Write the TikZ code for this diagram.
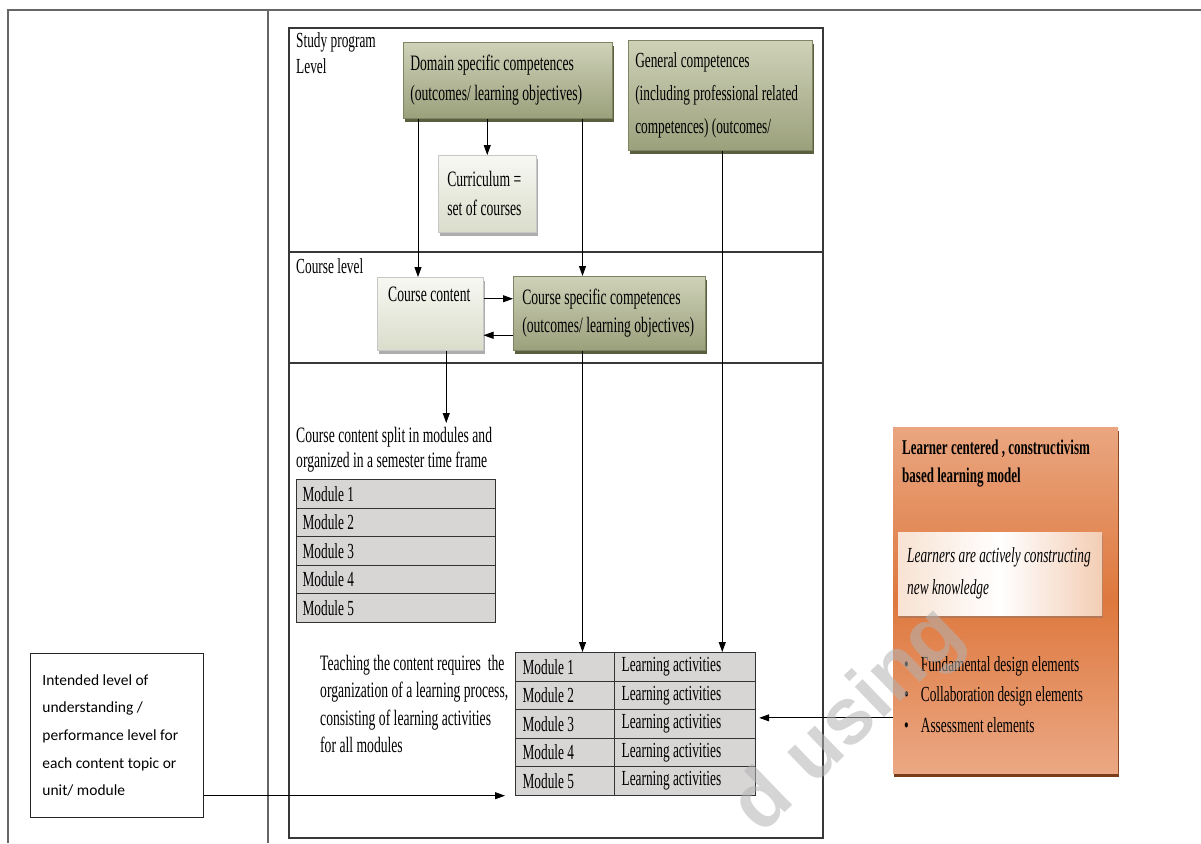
\documentclass[tikz,border=0pt]{standalone}
\usepackage{fontspec}
\setmainfont{Liberation Serif}[FakeStretch=0.62]
\newfontfamily\calib{Carlito}
\newfontfamily\wmfont{Liberation Sans}
\usetikzlibrary{arrows.meta,shadows,calc}
\definecolor{olivetop}{HTML}{CFD2B8}
\definecolor{olivebot}{HTML}{9BA07C}
\definecolor{olivedraw}{HTML}{7F8462}
\definecolor{oliveshadow}{HTML}{5B5F40}
\definecolor{paletop}{HTML}{F7F8F2}
\definecolor{palebot}{HTML}{DADCCB}
\definecolor{modgrey}{HTML}{D8D5D5}
\definecolor{orangetop}{HTML}{EAA680}
\definecolor{orangemid}{HTML}{DE783E}
\definecolor{orangebot}{HTML}{EBA884}
\definecolor{orangeshadow}{HTML}{7A3D1C}
\definecolor{peachl}{HTML}{F8E2D3}
\definecolor{peachr}{HTML}{F3CDB4}
\newcommand\setfs[2]{\fontsize{#1}{#2}\selectfont}
\tikzset{
  every node/.style={execute at begin node={\spaceskip=0pt\xspaceskip=0pt\hyphenpenalty=10000\exhyphenpenalty=10000\rightskip=0pt plus 1fil\relax}},
  tline/.style={draw=black!60, line width=1.5pt},
  frameline/.style={draw=black!78, line width=1.2pt},
  greenbox/.style={draw=olivedraw, line width=0.5pt, top color=olivetop, bottom color=olivebot,
    drop shadow={shadow xshift=2pt, shadow yshift=-4pt, fill=oliveshadow, opacity=1},
    anchor=north west, align=left},
  palebox/.style={draw=black!22, line width=0.5pt, top color=paletop, bottom color=palebot,
    drop shadow={shadow xshift=2pt, shadow yshift=-4pt, fill=black!40, opacity=0.8},
    anchor=north west, align=left},
  modcell/.style={draw=black!80, line width=1.2pt, fill=modgrey, minimum height=28.5pt,
    inner ysep=0pt, inner xsep=6pt, align=left, anchor=north west, font=\setfs{21.5}{25}},
  plain/.style={inner sep=0pt, anchor=north west, align=left},
  conn/.style={draw=black, line width=0.9pt},
  arr/.style={conn, -{Triangle[length=10pt,width=7pt]}},
}
\begin{document}
\begin{tikzpicture}[x=1pt,y=-1pt]
\useasboundingbox (0,0) rectangle (1201,843);
% outer table lines
\draw[tline] (7,10) -- (1201,10);
\draw[tline] (8,10) -- (8,843);
\draw[tline] (268,10) -- (268,843);
% inner frame
\draw[frameline] (289,28) rectangle (823,838);
\draw[frameline] (289,252) -- (823,252);
\draw[frameline] (289,363) -- (823,363);

% labels of levels
\node[plain, font=\setfs{21.5}{26}] (spl) at (296,32) {Study program\\Level};
\node[plain, font=\setfs{21.5}{26}] (cl) at (296,258) {Course level};

% study program level boxes
\node[greenbox, text width=195pt, inner xsep=7pt, minimum height=76pt, font=\setfs{22}{30}] (dom) at (403,42)
  {Domain specific competences\\(outcomes/ learning objectives)};
\node[greenbox, text width=170pt, inner xsep=7pt, minimum height=110pt, font=\setfs{21.5}{33}] (gen) at (628,40)
  {General competences\\(including professional related\\competences) (outcomes/};
\node[palebox, text width=80pt, inner xsep=9pt, minimum height=77pt, font=\setfs{22}{29}] (curr) at (438,155)
  {Curriculum =\\set of courses};

% course level boxes
\node[palebox, minimum width=106pt, minimum height=73pt] (cc) at (377,277) {};
\node[plain, font=\setfs{22}{26}] (cctext) at (388,287) {Course content};
\node[greenbox, text width=174pt, inner xsep=9pt, minimum height=74pt, font=\setfs{22}{28}] (cs) at (513,276)
  {Course specific competences\\(outcomes/ learning objectives)};

% module list
\node[plain, font=\setfs{22}{25}] (split) at (296,427)
  {Course content split in modules and\\organized in a semester time frame};
\node[modcell, text width=187pt] (ml1) at (296,479) {Module 1};
\node[modcell, text width=187pt] (ml2) at (296,507.5) {Module 2};
\node[modcell, text width=187pt] (ml3) at (296,536) {Module 3};
\node[modcell, text width=187pt] (ml4) at (296,564.5) {Module 4};
\node[modcell, text width=187pt] (ml5) at (296,593) {Module 5};

% teaching text
\node[plain, font=\setfs{22}{27.3}] (teach) at (320,655)
  {Teaching the content requires\ \ the\\organization of a learning process,\\consisting of learning activities\\for all modules};

% module table
\node[modcell, text width=85pt, inner xsep=7pt] (m1) at (515,652) {Module 1};
\node[modcell, text width=85pt, inner xsep=7pt] (m2) at (515,680.5) {Module 2};
\node[modcell, text width=85pt, inner xsep=7pt] (m3) at (515,709) {Module 3};
\node[modcell, text width=85pt, inner xsep=7pt] (m4) at (515,737.5) {Module 4};
\node[modcell, text width=85pt, inner xsep=7pt] (m5) at (515,766) {Module 5};
\node[modcell, text width=127pt, inner xsep=7pt] (l1) at (614,652) {Learning activities};
\node[modcell, text width=127pt, inner xsep=7pt] (l2) at (614,680.5) {Learning activities};
\node[modcell, text width=127pt, inner xsep=7pt] (l3) at (614,709) {Learning activities};
\node[modcell, text width=127pt, inner xsep=7pt] (l4) at (614,737.5) {Learning activities};
\node[modcell, text width=127pt, inner xsep=7pt] (l5) at (614,766) {Learning activities};

% left box
\node[draw=black!85, line width=0.9pt, anchor=north west, text width=149pt, inner xsep=12pt,
      minimum height=164pt, align=left, font=\calib\setfs{15.5}{27.7}] (lb) at (30,653)
  {Intended level of\\understanding /\\performance level for\\each content topic or\\unit/ module};

% orange box
\node[anchor=north west, minimum width=225pt, minimum height=346pt, inner sep=0pt,
      top color=orangetop, bottom color=orangebot, middle color=orangemid,
      drop shadow={shadow xshift=1pt, shadow yshift=-4pt, fill=orangeshadow, opacity=1}] (ob) at (893,427) {};
\node[plain, font=\bfseries\setfs{21}{28}] (obtitle) at (902,440)
  {Learner centered , constructivism\\based learning model};
\node[anchor=north west, minimum width=204pt, minimum height=83pt, inner xsep=9pt, text width=186pt,
      align=left, left color=peachl, right color=peachr, middle color=white,
      drop shadow={shadow xshift=1pt, shadow yshift=-3pt, fill=orangeshadow!70, opacity=0.7},
      font=\itshape\setfs{21.5}{32}] (know) at (898,532)
  {Learners are actively constructing\\new knowledge};
\node[plain, font=\setfs{21.5}{30.5}] (bul) at (904,656)
  {\textbullet\hspace{12pt}Fundamental design elements\\
   \textbullet\hspace{12pt}Collaboration design elements\\
   \textbullet\hspace{12pt}Assessment elements};

% connectors
\draw[arr] (curr.north |- dom.south) -- (curr.north);
\draw[arr] ([xshift=15pt]dom.south west) -- ([xshift=15pt]dom.south west |- cc.north);
\draw[arr] ([xshift=-30pt]dom.south east) -- ([xshift=-30pt]dom.south east |- cs.north);
\draw[arr] ([xshift=-30pt]dom.south east |- cs.south) -- ([xshift=-30pt]dom.south east |- l1.north);
\draw[arr] ([xshift=2pt]gen.south) -- ([xshift=2pt]gen.south |- l1.north);
\draw[arr] ([yshift=15pt]cc.east) -- ([yshift=15pt]cc.east -| cs.west);
\draw[arr] ([yshift=-22pt]cs.west) -- ([yshift=-22pt]cs.west -| cc.east);
\draw[arr, shorten >=4pt] ([xshift=16pt]cc.south) -- ([xshift=16pt]cc.south |- split.north);
\draw[arr, shorten >=10pt] (lb.east |- m5.south west) -- (m5.south west);
\draw[arr, shorten >=3pt] ([yshift=6pt]l3.east -| ob.west) -- ([yshift=6pt]l3.east);

% watermark
\node[rotate=44, text=black!30, opacity=0.55, font=\wmfont\bfseries\setfs{80}{80}] (wm) at (850,722) {d using};
\end{tikzpicture}
\end{document}
